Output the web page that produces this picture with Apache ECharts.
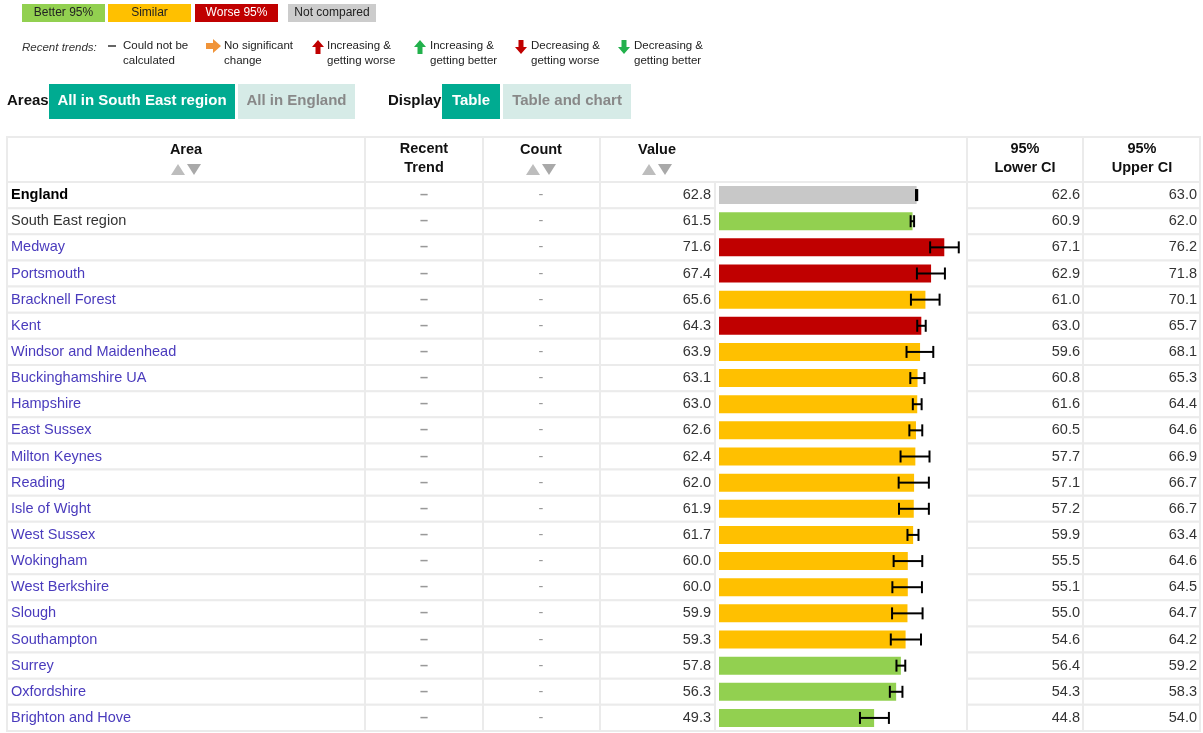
<!DOCTYPE html>
<html><head><meta charset="utf-8">
<script src="https://cdn.jsdelivr.net/npm/echarts@6/dist/echarts.min.js"></script>
<style>html,body{margin:0;padding:0;background:#fff}#c{width:1203px;height:733px}</style>
</head><body><div id="c"></div>
<script>
const areas = ['England','South East region','Medway','Portsmouth','Bracknell Forest','Kent','Windsor and Maidenhead','Buckinghamshire UA','Hampshire','East Sussex','Milton Keynes','Reading','Isle of Wight','West Sussex','Wokingham','West Berkshire','Slough','Southampton','Surrey','Oxfordshire','Brighton and Hove'];
const values = [62.8,61.5,71.6,67.4,65.6,64.3,63.9,63.1,63.0,62.6,62.4,62.0,61.9,61.7,60.0,60.0,59.9,59.3,57.8,56.3,49.3];
const lowerCI = [62.6,60.9,67.1,62.9,61.0,63.0,59.6,60.8,61.6,60.5,57.7,57.1,57.2,59.9,55.5,55.1,55.0,54.6,56.4,54.3,44.8];
const upperCI = [63.0,62.0,76.2,71.8,70.1,65.7,68.1,65.3,64.4,64.6,66.9,66.7,66.7,63.4,64.6,64.5,64.7,64.2,59.2,58.3,54.0];
const significance = ['none','better','worse','worse','similar','worse','similar','similar','similar','similar','similar','similar','similar','similar','similar','similar','similar','similar','better','better','better'];
const recentTrend = ['–','–','–','–','–','–','–','–','–','–','–','–','–','–','–','–','–','–','–','–','–'];
const counts = ['-','-','-','-','-','-','-','-','-','-','-','-','-','-','-','-','-','-','-','-','-'];
const legendLabels = ['Better 95%','Similar','Worse 95%','Not compared'];
const trendLabels = [['Could not be','calculated'],['No significant','change'],['Increasing &','getting worse'],['Increasing &','getting better'],['Decreasing &','getting worse'],['Decreasing &','getting better']];
const headerLabels = ['Area','Recent\nTrend','Count','Value','95%\nLower CI','95%\nUpper CI'];

const FF = '"Liberation Sans", Arial, sans-serif';
const COLORS = {better:'#92d050', similar:'#ffc000', worse:'#c00000', none:'#c8c8c8'};
const BORDER = '#ebebeb';
const TEAL = '#00ab91', LIGHT = '#d6ebe7';
const LINK = '#4a3bbd';
const f = (sz, w, st) => (st||'normal') + ' ' + (w||'normal') + ' ' + sz + 'px ' + FF;

// table row renderer (text cells + cell borders)
const bodyCells = [[7,365],[365,483],[483,600],[600,715],[967,1083],[1083,1200]];
function tableRow(params, api){
  const i = api.value(1);
  const c = api.coord([0, i]);
  const h = api.size([0, 1])[1];
  const y0 = c[1] - h/2, yc = c[1];
  const ch = [];
  bodyCells.forEach(([a,b]) => ch.push({type:'rect', shape:{x:a, y:y0, width:b-a, height:h}, style:{fill:'#fff', stroke:BORDER, lineWidth:2}}));
  if (i === areas.length - 1) ch.push({type:'line', shape:{x1:715,y1:y0+h,x2:967,y2:y0+h}, style:{stroke:BORDER, lineWidth:2}});
  const nameFill = i === 0 ? '#000' : (i === 1 ? '#333' : LINK);
  ch.push({type:'text', style:{text:areas[i], x:11, y:yc, align:'left', verticalAlign:'middle', fill:nameFill, font:f(14.5, i===0?'bold':'normal')}});
  ch.push({type:'text', style:{text:recentTrend[i], x:424, y:yc, align:'center', verticalAlign:'middle', fill:'#999', font:f(14.5,'bold')}});
  ch.push({type:'text', style:{text:counts[i], x:541, y:yc, align:'center', verticalAlign:'middle', fill:'#999', font:f(14.5)}});
  ch.push({type:'text', style:{text:values[i].toFixed(1), x:711, y:yc, align:'right', verticalAlign:'middle', fill:'#333', font:f(14.5)}});
  ch.push({type:'text', style:{text:lowerCI[i].toFixed(1), x:1080, y:yc, align:'right', verticalAlign:'middle', fill:'#333', font:f(14.5)}});
  ch.push({type:'text', style:{text:upperCI[i].toFixed(1), x:1197, y:yc, align:'right', verticalAlign:'middle', fill:'#333', font:f(14.5)}});
  return {type:'group', children:ch};
}

function errRender(params, api){
  const lo = api.coord([api.value(0), api.value(1)]);
  const hi = api.coord([api.value(2), api.value(1)]);
  const y = lo[1], cap = 6;
  const st = {stroke:'#000', lineWidth:2};
  return {type:'group', children:[
    {type:'line', shape:{x1:lo[0],y1:y,x2:hi[0],y2:y}, style:st},
    {type:'line', shape:{x1:lo[0],y1:y-cap,x2:lo[0],y2:y+cap}, style:st},
    {type:'line', shape:{x1:hi[0],y1:y-cap,x2:hi[0],y2:y+cap}, style:st}
  ]};
}

// graphics: legend, trends, buttons, header
const g = [];
const txt = (t, x, y, font, fill, align) => g.push({type:'text', x:x, y:y, style:{text:t, font:font, fill:fill, align:align||'left', verticalAlign:'middle'}});
const rect = (x, y, w, h, fill, stroke) => g.push({type:'rect', shape:{x:x,y:y,width:w,height:h}, style:{fill:fill, stroke:stroke||null, lineWidth:stroke?2:0}});
const poly = (pts, fill) => g.push({type:'polygon', shape:{points:pts}, style:{fill:fill}});

// legend boxes
const legBoxes = [[22,105,COLORS.better,'#222'],[108,191,COLORS.similar,'#222'],[195,278,COLORS.worse,'#fff'],[288,376,'#cccccc','#222']];
legBoxes.forEach(([a,b,col,tc],k) => { rect(a,4,b-a,18,col); txt(legendLabels[k], (a+b)/2, 13, f(12), tc, 'center'); });

// recent trends
txt('Recent trends:', 22, 48, f(11.5,'normal','italic'), '#333');
const trendX = [123, 224, 327, 430, 531, 634];
trendLabels.forEach((l,k) => { txt(l[0], trendX[k], 46, f(11.5), '#222'); txt(l[1], trendX[k], 61, f(11.5), '#222'); });
g.push({type:'rect', shape:{x:108,y:45,width:8,height:2}, style:{fill:'#666'}});
// orange right arrow
poly([[206,43],[213,43],[213,39],[221,46],[213,53],[213,49],[206,49]], '#f0943a');
function upArrow(cx, col){ poly([[cx-6,47],[cx,40],[cx+6,47],[cx+2.5,47],[cx+2.5,54],[cx-2.5,54],[cx-2.5,47]], col); }
function downArrow(cx, col){ poly([[cx-6,47],[cx,54],[cx+6,47],[cx+2.5,47],[cx+2.5,40],[cx-2.5,40],[cx-2.5,47]], col); }
upArrow(318, '#c00000'); upArrow(420, '#22b14c'); downArrow(521, '#c00000'); downArrow(624, '#22b14c');

// buttons
txt('Areas', 7, 101, f(15,'bold'), '#111');
rect(49,84,186,35,TEAL); txt('All in South East region', 142, 101, f(15,'bold'), '#fff', 'center');
rect(238,84,117,35,LIGHT); txt('All in England', 296.5, 101, f(15,'bold'), '#888', 'center');
txt('Display', 388, 101, f(15,'bold'), '#111');
rect(442,84,58,35,TEAL); txt('Table', 471, 101, f(15,'bold'), '#fff', 'center');
rect(503,84,128,35,LIGHT); txt('Table and chart', 567, 101, f(15,'bold'), '#888', 'center');

// header
const headCells = [[7,365],[365,483],[483,600],[600,967],[967,1083],[1083,1200]];
headCells.forEach(([a,b]) => rect(a,137,b-a,45,'#fff',BORDER));
const headX = [186, 424, 541, 657, 1025, 1142];
headerLabels.forEach((l,k) => {
  const parts = l.split('\n');
  if (parts.length === 2) { txt(parts[0], headX[k], 149, f(14.5,'bold'), '#111', 'center'); txt(parts[1], headX[k], 168, f(14.5,'bold'), '#111', 'center'); }
  else txt(l, headX[k], 150, f(14.5,'bold'), '#111', 'center');
});
[186, 541, 657].forEach(cx => {
  poly([[cx-15,175],[cx-8,164],[cx-1,175]], '#bdbdbd');
  poly([[cx+1,164],[cx+15,164],[cx+8,175]], '#a9a9a9');
});

const option = {
  animation:false,
  backgroundColor:'#fff',
  grid:[
    {left:7, top:182, width:1193, height:549},
    {left:719, top:182, width:247, height:549}
  ],
  xAxis:[
    {gridIndex:0, type:'value', min:0, max:1, show:false},
    {gridIndex:1, type:'value', min:0, max:78.5, show:false}
  ],
  yAxis:[
    {gridIndex:0, type:'category', data:areas, inverse:true, show:false},
    {gridIndex:1, type:'category', data:areas, inverse:true, show:false}
  ],
  series:[
    {type:'custom', xAxisIndex:0, yAxisIndex:0, silent:true, data:areas.map((a,i)=>[0,i]), renderItem:tableRow, z:1},
    {type:'bar', xAxisIndex:1, yAxisIndex:1, barWidth:18, silent:true, z:3,
     data:values.map((v,i)=>({value:v, itemStyle:{color:COLORS[significance[i]]}}))},
    {type:'custom', xAxisIndex:1, yAxisIndex:1, silent:true, z:5,
     data:values.map((v,i)=>[lowerCI[i], i, upperCI[i]]), renderItem:errRender}
  ],
  graphic:g
};
const chart = echarts.init(document.getElementById('c'), null, {renderer:'canvas'});
chart.setOption(option);
</script></body></html>
